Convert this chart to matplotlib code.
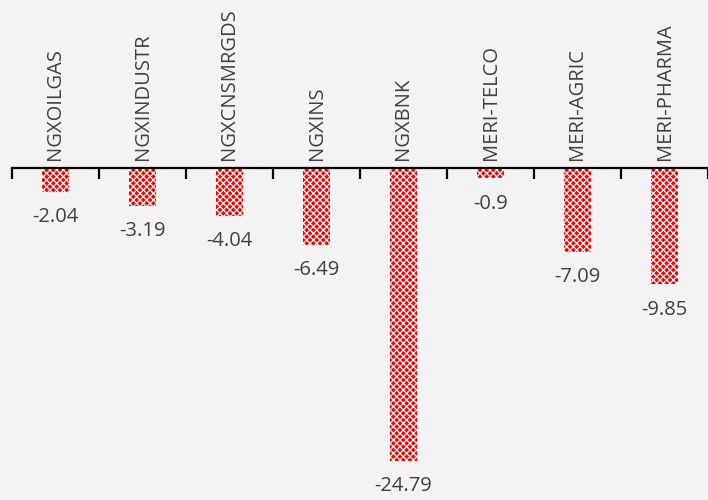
import numpy as np
import matplotlib
matplotlib.use('Agg')
import matplotlib.pyplot as plt

# sector indices and their returns
sectors = ['NGXOILGAS', 'NGXINDUSTR', 'NGXCNSMRGDS', 'NGXINS', 'NGXBNK',
           'MERI-TELCO', 'MERI-AGRIC', 'MERI-PHARMA']
returns = [-2.04, -3.19, -4.04, -6.49, -24.79, -0.9, -7.09, -9.85]
value_labels = ['-2.04', '-3.19', '-4.04', '-6.49', '-24.79', '-0.9', '-7.09', '-9.85']

plt.rcParams['font.family'] = ['Open Sans', 'DejaVu Sans']
plt.rcParams['hatch.linewidth'] = 0.9

fig = plt.figure(figsize=(7.08, 5.0), dpi=100)
fig.patch.set_facecolor('#f4f2f2')
ax = fig.add_axes([12 / 708, 0, 696 / 708, 1])
ax.set_facecolor('none')

x = np.arange(len(sectors))
ax.bar(x, returns, width=0.32, color='#ff0000', edgecolor='white',
       hatch='xxxxx', linewidth=0)

ax.set_xlim(-0.5, 7.5)
ax.set_ylim(-28.1, 14.2)

for s in ['top', 'right', 'left']:
    ax.spines[s].set_visible(False)
ax.spines['bottom'].set_position(('data', 0))
ax.spines['bottom'].set_linewidth(1.6)
ax.spines['bottom'].set_color('black')
ax.set_yticks([])
ax.set_xticks(np.arange(-0.5, 8.0, 1.0))
ax.set_xticklabels([])
ax.tick_params(axis='x', direction='out', length=8, width=1.6, color='black')

for i, name in enumerate(sectors):
    ax.annotate(name, (i, 0), xytext=(0, 6), textcoords='offset points',
                rotation=90, ha='center', va='bottom', fontsize=14.5, color='#404040')
    ax.annotate(value_labels[i], (i, returns[i]), xytext=(0, -11), textcoords='offset points',
                ha='center', va='top', fontsize=14.5, color='#404040')

fig.savefig('out.png', dpi=100, facecolor=fig.get_facecolor())
